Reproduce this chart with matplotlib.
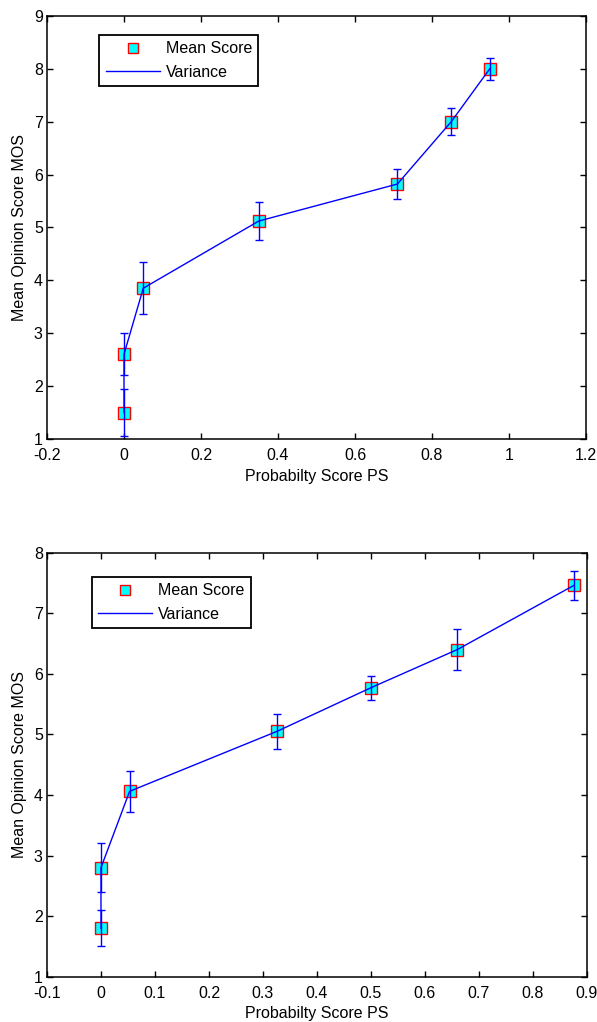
import matplotlib
matplotlib.use("Agg")
import matplotlib.pyplot as plt

plt.rcParams['font.family'] = ['Liberation Sans', 'DejaVu Sans']
plt.rcParams['font.size'] = 11.5

# first experiment
ps_a = [0, 0, 0.05, 0.35, 0.71, 0.85, 0.95]
mos_a = [1.5, 2.6, 3.85, 5.12, 5.82, 7.0, 8.0]
var_a = [0.45, 0.4, 0.49, 0.36, 0.29, 0.26, 0.21]

# second experiment
ps_b = [0, 0, 0.053, 0.326, 0.50, 0.66, 0.876]
mos_b = [1.8, 2.8, 4.06, 5.05, 5.77, 6.40, 7.46]
var_b = [0.3, 0.4, 0.34, 0.29, 0.2, 0.34, 0.24]

xticks_a = [-0.2, 0, 0.2, 0.4, 0.6, 0.8, 1, 1.2]
xticks_b = [-0.1, 0, 0.1, 0.2, 0.3, 0.4, 0.5, 0.6, 0.7, 0.8, 0.9]


def panel(ax, ps, mos, var, xticks, ylim, leg_anchor):
    ax.plot(ps, mos, ls='none', marker='s', ms=8.5, mfc='cyan', mec='red',
            mew=1.0, label='Mean Score', zorder=3)
    ax.errorbar(ps, mos, yerr=var, fmt='none', ecolor='blue', elinewidth=1.0,
                capsize=2.9, capthick=1.0, zorder=4)
    ax.plot(ps, mos, color='blue', lw=1.0, label='Variance', zorder=4)

    ax.set_xlim(xticks[0], xticks[-1])
    ax.set_ylim(*ylim)
    ax.set_xticks(xticks)
    ax.set_xticklabels(['%g' % t for t in xticks])
    ax.set_yticks(range(ylim[0], ylim[1] + 1))
    ax.tick_params(direction='in', top=True, right=True, length=4,
                   width=1.0, color='black')
    ax.tick_params(axis='x', pad=6.5)
    ax.tick_params(axis='y', pad=3)
    for s in ax.spines.values():
        s.set_linewidth(1.1)
    ax.set_xlabel('Probabilty Score PS', labelpad=4)
    ax.set_ylabel('Mean Opinion Score MOS', labelpad=5)

    leg = ax.legend(loc='upper left', bbox_to_anchor=leg_anchor,
                    borderaxespad=0, fancybox=False, framealpha=1,
                    edgecolor='black', handlelength=3.4, handletextpad=0.35,
                    borderpad=0.4, labelspacing=0.55, markerscale=0.85)
    leg.get_frame().set_linewidth(1.3)


fig = plt.figure(figsize=(5.97, 10.22), dpi=100)
ax1 = fig.add_axes([0.0787, 0.5705, 0.903, 0.414])
ax2 = fig.add_axes([0.0787, 0.0443, 0.9045, 0.415])

panel(ax1, ps_a, mos_a, var_a, xticks_a, (1, 9), (0.097, 0.955))
panel(ax2, ps_b, mos_b, var_b, xticks_b, (1, 8), (0.083, 0.943))

fig.savefig('out.png', dpi=100)
